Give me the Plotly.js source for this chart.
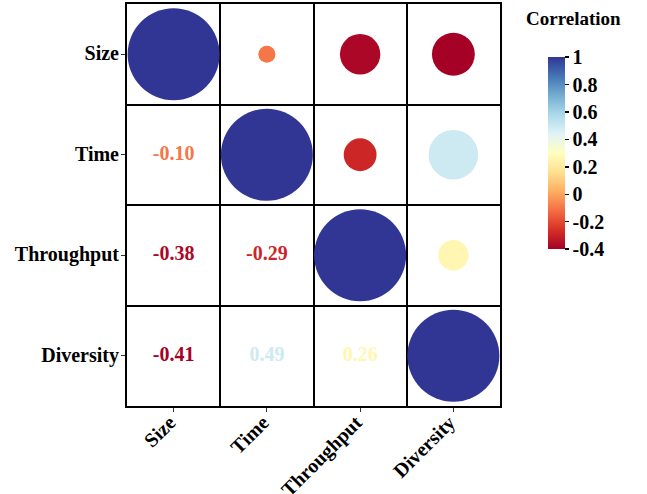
<!DOCTYPE html>
<html>
<head>
<meta charset="utf-8">
<script src="https://cdn.plot.ly/plotly-3.0.1.min.js"></script>
<style>html,body{margin:0;padding:0;background:#fff;}#chart{width:647px;height:494px;}</style>
</head>
<body>
<div id="chart"></div>
<script>
const variables = ["Size", "Time", "Throughput", "Diversity"];
const corrSize = [1.00, -0.10, -0.38, -0.41];
const corrTime = [-0.10, 1.00, -0.29, 0.49];
const corrThroughput = [-0.38, -0.29, 1.00, 0.26];
const corrDiversity = [-0.41, 0.49, 0.26, 1.00];
const colorbarTicks = [-0.4, -0.2, 0, 0.2, 0.4, 0.6, 0.8, 1];
const colorbarTickText = ["-0.4", "-0.2", "0", "0.2", "0.4", "0.6", "0.8", "1"];

const matrix = [corrSize, corrTime, corrThroughput, corrDiversity];
const cmin = -0.4, cmax = 1;
const palette = ["#a50026","#d73027","#f46d43","#fdae61","#fee090","#ffffbf","#e0f3f8","#abd9e9","#74add1","#4575b4","#313695"];
const colorscale = palette.map((c, i) => [i / (palette.length - 1), c]);

function hexToRgb(h) { return [parseInt(h.slice(1,3),16), parseInt(h.slice(3,5),16), parseInt(h.slice(5,7),16)]; }
function colorFor(v) {
  let t = (v - cmin) / (cmax - cmin);
  t = Math.max(0, Math.min(1, t));
  const p = t * (palette.length - 1);
  const i = Math.min(Math.floor(p), palette.length - 2);
  const f = p - i;
  const a = hexToRgb(palette[i]), b = hexToRgb(palette[i + 1]);
  const c = a.map((x, k) => Math.round(x + (b[k] - x) * f));
  return "rgb(" + c.join(",") + ")";
}

const cx = [], cy = [], cv = [], cs = [];
const tx = [], ty = [], tt = [], tc = [];
for (let r = 0; r < variables.length; r++) {
  for (let c = 0; c < variables.length; c++) {
    const v = matrix[r][c];
    if (c >= r) {
      cx.push(c); cy.push(r); cv.push(v);
      cs.push(8.7 + 83.3 * Math.abs(v));
    } else {
      tx.push(c); ty.push(r); tt.push(v.toFixed(2)); tc.push(colorFor(v));
    }
  }
}

const fontFam = "Liberation Serif, Times New Roman, serif";
const idx = variables.map((_, i) => i);
const bounds = [-0.5, 0.5, 1.5, 2.5, 3.5];

const traces = [
  {
    type: "scatter", mode: "markers", x: cx, y: cy,
    marker: {
      size: cs, color: cv, colorscale: colorscale, cmin: cmin, cmax: cmax,
      line: {width: 0}, opacity: 1,
      showscale: true,
      colorbar: {
        thickness: 17, thicknessmode: "pixels",
        len: 192, lenmode: "pixels",
        x: 1.1287, xanchor: "left", xref: "paper",
        y: 0.629, yanchor: "middle",
        xpad: 0, ypad: 0,
        outlinewidth: 0,
        tickvals: colorbarTicks, ticktext: colorbarTickText,
        ticks: "outside", ticklen: 4, tickwidth: 1.5, tickcolor: "#000",
        tickfont: {family: fontFam, size: 20, color: "#000", weight: 700},
        title: {text: ""}
      }
    },
    hoverinfo: "skip", showlegend: false
  },
  {
    type: "scatter", mode: "text", x: tx, y: ty, text: tt,
    textposition: "middle center",
    textfont: {family: fontFam, size: 20, color: tc, weight: 700},
    hoverinfo: "skip", showlegend: false
  }
];

const axisCommon = {
  showgrid: false, zeroline: false,
  showline: true, mirror: true, linecolor: "#000", linewidth: 2,
  ticks: "outside", ticklen: 4, tickcolor: "#333", tickwidth: 1,
  tickfont: {family: fontFam, size: 20, color: "#000", weight: 700},
  tickvals: idx, ticktext: variables,
  minor: {tickvals: bounds, showgrid: true, gridcolor: "#000", gridwidth: 2, ticks: ""},
  fixedrange: true
};

const layout = {
  width: 647, height: 494,
  margin: {l: 127, r: 147, t: 4, b: 88},
  paper_bgcolor: "#fff", plot_bgcolor: "#fff",
  xaxis: Object.assign({}, axisCommon, {range: [-0.5, 3.5], tickangle: -45, ticklabelstandoff: -9, ticklabelshift: -4}),
  yaxis: Object.assign({}, axisCommon, {range: [3.5, -0.5], ticklabelstandoff: -2, ticklabelshift: 1}),
  annotations: [{
    text: "Correlation", xref: "paper", yref: "paper",
    x: 1.198, y: 0.965, xanchor: "center", yanchor: "middle",
    showarrow: false,
    font: {family: fontFam, size: 19, color: "#000", weight: 700}
  }],
  hovermode: false
};

Plotly.newPlot("chart", traces, layout, {displayModeBar: false, staticPlot: true});
</script>
</body>
</html>
